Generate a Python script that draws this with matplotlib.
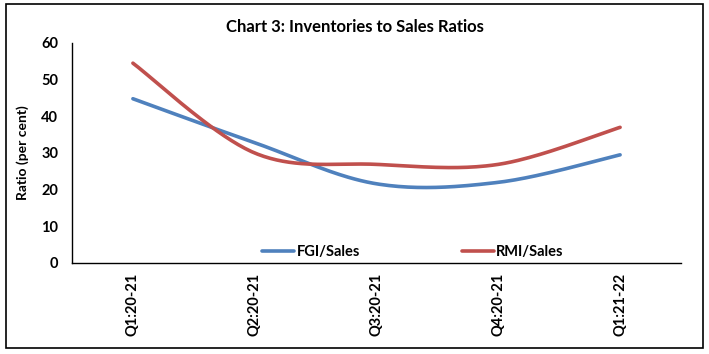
import matplotlib
matplotlib.use("Agg")
from matplotlib import pyplot as plt
from matplotlib.patches import Rectangle
import numpy as np

plt.rcParams['font.family'] = ['Lato', 'DejaVu Sans']

# data
quarters = ['Q1:20-21', 'Q2:20-21', 'Q3:20-21', 'Q4:20-21', 'Q1:21-22']
fgi_sales = [44.8, 32.8, 21.6, 22.0, 29.5]
rmi_sales = [54.5, 30.0, 26.9, 26.9, 37.0]


def smooth(y, n=40):
    # excel-like smoothed line: catmull-rom through the points
    y = np.asarray(y, float)
    x = np.arange(len(y), dtype=float)
    xs, ys = [], []
    for i in range(len(y) - 1):
        y0 = y[i - 1] if i > 0 else y[i]
        y3 = y[i + 2] if i + 2 < len(y) else y[i + 1]
        x0 = x[i - 1] if i > 0 else x[i]
        x3 = x[i + 2] if i + 2 < len(y) else x[i + 1]
        c1x = x[i] + (x[i + 1] - x0) / 6
        c1y = y[i] + (y[i + 1] - y0) / 6
        c2x = x[i + 1] - (x3 - x[i]) / 6
        c2y = y[i + 1] - (y3 - y[i]) / 6
        t = np.linspace(0, 1, n)
        b = [(1 - t) ** 3, 3 * (1 - t) ** 2 * t, 3 * (1 - t) * t ** 2, t ** 3]
        xs.append(b[0] * x[i] + b[1] * c1x + b[2] * c2x + b[3] * x[i + 1])
        ys.append(b[0] * y[i] + b[1] * c1y + b[2] * c2y + b[3] * y[i + 1])
    return np.concatenate(xs), np.concatenate(ys)


fig = plt.figure(figsize=(7.09, 3.54), dpi=100)
ax = fig.add_axes((72 / 709, 1 - 263 / 354, 609 / 709, 220 / 354))

xb, yb = smooth(fgi_sales)
xr, yr = smooth(rmi_sales)
ax.plot(xb, yb, color='#4F81BD', lw=2.6, label='FGI/Sales', solid_capstyle='round')
ax.plot(xr, yr, color='#C0504D', lw=2.6, label='RMI/Sales', solid_capstyle='round')

ax.set_xlim(-0.5, len(quarters) - 0.5)
ax.set_ylim(0, 60)
ax.set_yticks(range(0, 61, 10))
ax.set_xticks(range(len(quarters)))
ax.set_xticklabels(quarters, rotation=90, fontweight='bold', fontsize=10.5)
for lab in ax.get_yticklabels():
    lab.set_fontweight('bold')
    lab.set_fontsize(10.5)
ax.tick_params(length=0)
ax.tick_params(axis='x', pad=7)
ax.tick_params(axis='y', pad=10)
for s in ['top', 'right']:
    ax.spines[s].set_visible(False)
for s in ['left', 'bottom']:
    ax.spines[s].set_linewidth(1.0)

ax.set_ylabel('Ratio (per cent)', fontweight='bold', fontsize=10, labelpad=9)
fig.text(0.5, 0.924, 'Chart 3: Inventories to Sales Ratios', ha='center', va='center',
         fontweight='bold', fontsize=12)

ax.legend(loc='lower center', bbox_to_anchor=(0.56, -0.04), ncol=2, frameon=False,
          prop={'weight': 'bold', 'size': 10.5}, handlelength=2.2, handletextpad=0.15,
          columnspacing=7)

fig.patches.append(Rectangle((6 / 709, 6 / 354), 697 / 709, 344 / 354, transform=fig.transFigure,
                             fill=False, edgecolor='black', lw=1.2))

fig.savefig('out.png', dpi=100)
